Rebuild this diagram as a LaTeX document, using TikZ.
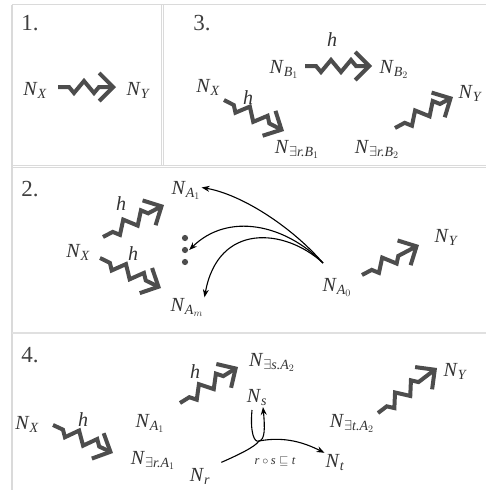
\documentclass[tikz,border=0pt]{standalone}
\usepackage{amsmath,amssymb}
\usepackage{fontspec}
\setmainfont{Liberation Serif}
\usetikzlibrary{arrows.meta,positioning,calc,decorations.pathmorphing}
\definecolor{zzc}{HTML}{4D4D4D}
\definecolor{txc}{HTML}{333333}
\definecolor{rulec}{HTML}{DADADA}
\newcommand{\vi}[1]{\textit{#1}}
\newcommand{\nd}[1]{\vi{N}$_{#1}$}

\begin{document}
\begin{tikzpicture}[x=1pt,y=-1pt,>=Stealth,
  every node/.style={text=txc,font=\fontsize{20}{23}\selectfont,inner sep=1pt},
  nn/.style={text height=13pt,text depth=0pt},
  num/.style={font=\fontsize{23}{26}\selectfont,text=black!75},
  zz/.style={draw=zzc,line width=4pt,decorate,
    decoration={zigzag,segment length=20pt,amplitude=-6pt,pre length=11pt,post length=14pt},
    -{Straight Barb[length=14pt,width=28pt]}},
  ln/.style={draw=black,line width=1.1pt,->},
  rule/.style={draw=rulec,line width=1.2pt}]
  \useasboundingbox (0,0) rectangle (486,490);
  % panel frames
  \draw[rule] (12,4.5)--(486,4.5) (12,4.5)--(12,490);
  \draw[rule] (161.5,4.5)--(161.5,165.5) (163.5,4.5)--(163.5,165.5);
  \draw[rule] (12,165.5)--(486,165.5) (12,167.5)--(486,167.5);
  \draw[rule,line width=2.5pt,draw=black!12] (12,333)--(486,333);

  % 1.
  \node[num] (n1) at (30,23.5) {1.};
  \node[nn] (x1) at (35,88.5) {\nd{\vi{X}}};
  \node[nn] (y1) at (138,88.5) {\nd{\vi{Y}}};
  \draw[zz] ($(x1)+(23,-1.5)$)--($(y1)+(-22,-1.5)$);

  % 3.
  \node[num] (n3) at (202,23.5) {3.};
  \node[nn] (b1) at (284,67) {\nd{\vi{B}_1}};
  \node[nn] (b2) at (394,67) {\nd{\vi{B}_2}};
  \node[nn] (x3) at (208,86) {\nd{\vi{X}}};
  \node[nn] (e1) at (297,146.5) {\nd{\exists\vi{r.B}_1}};
  \node[nn] (e2) at (377,146.5) {\nd{\exists\vi{r.B}_2}};
  \node[nn] (y3) at (470,91.5) {\nd{\vi{Y}}};
  \node (h1) at (332,40) {\vi{h}};
  \node (h2) at (248,98) {\vi{h}};
  \draw[zz] ($(b1)+(21,-1)$)--($(b2)+(-22,-1)$);
  \draw[zz] ($(x3)+(16,14)$)--($(e1)+(-13,-15.5)$);
  \draw[zz] ($(e2)+(18,-18.5)$)--($(y3)+(-17,5.5)$);

  % 2.
  \node[num] (n2) at (30,189) {2.};
  \node[nn] (a1) at (186,187.5) {\nd{\vi{A}_1}};
  \node[nn] (x2) at (78,250.5) {\nd{\vi{X}}};
  \node[nn] (am) at (187,305) {\nd{\vi{A}_m}};
  \node[nn] (a0) at (337,284.5) {\nd{\vi{A}_0}};
  \node[nn] (y2) at (446,235.5) {\nd{\vi{Y}}};
  \node (h3) at (121,204) {\vi{h}};
  \node (h4) at (133,254) {\vi{h}};
  \node[inner sep=0,minimum width=8pt,minimum height=32pt] (dots) at (185,250) {};
  \foreach \dy in {-12,0,12} \fill[zzc] ($(dots)+(0,\dy)$) circle (3.1pt);
  \coordinate (fan) at (323,263);
  \draw[zz] ($(x2)+(25,-13.5)$)--($(a1)+(-22,17.5)$);
  \draw[zz] ($(x2)+(22,7.5)$)--($(am)+(-26,-17)$);
  \draw[zz] ($(a0)+(25,-9.5)$)--($(y2)+(-27,9.5)$);
  \draw[ln] (fan) .. controls (290,225) and (240,194) .. (a1.east);
  \draw[ln] (fan) .. controls (285,224) and (228,212) .. (dots.east);
  \draw[ln] (fan) .. controls (285,228) and (218,222) .. (am.north east);

  % 4.
  \node[num] (n4) at (30,355) {4.};
  \node[nn] (x4) at (27,422.5) {\nd{\vi{X}}};
  \node[nn] (e3) at (153,457.5) {\nd{\exists\vi{r.A}_1}};
  \node[nn] (a4) at (150,420.5) {\nd{\vi{A}_1}};
  \node[nn] (e4) at (272,359.5) {\nd{\exists\vi{s.A}_2}};
  \node[nn] (ns) at (257,395.5) {\nd{\vi{s}}};
  \node[nn] (e5) at (352,420.5) {\nd{\exists\vi{t.A}_2}};
  \node[nn] (y4) at (455,369.5) {\nd{\vi{Y}}};
  \node[nn] (nt) at (335,460.5) {\nd{\vi{t}}};
  \node[nn] (nr) at (200,474.5) {\nd{\vi{r}}};
  \node (h5) at (83,420) {\vi{h}};
  \node (h6) at (195,372) {\vi{h}};
  \node[font=\fontsize{12.5}{14}\selectfont] (comp) at (275,461) {$\vi{r}\circ\vi{s}\sqsubseteq\vi{t}$};
  \draw[zz] ($(x4)+(26,2.5)$)--($(e3)+(-40,-4.5)$);
  \draw[zz] ($(a4)+(30,-17.5)$)--($(e4)+(-34,7.5)$);
  \draw[zz] ($(e5)+(26,-7.5)$)--($(y4)+(-18,-1.5)$);
  \coordinate (j) at (259,441);
  \coordinate (sl) at (252,410);
  \coordinate (st) at (263,407);
  \draw[ln,-,shorten <=11pt] (nr.north east) .. controls (238,455) and (255,447) .. (j);
  \draw[ln] (sl) .. controls (250,432) and (254,443) .. (j) .. controls (265,440) and (265,428) .. (st);
  \draw[ln] (j) .. controls (285,436) and (305,443) .. (nt.north west);
\end{tikzpicture}
\end{document}
